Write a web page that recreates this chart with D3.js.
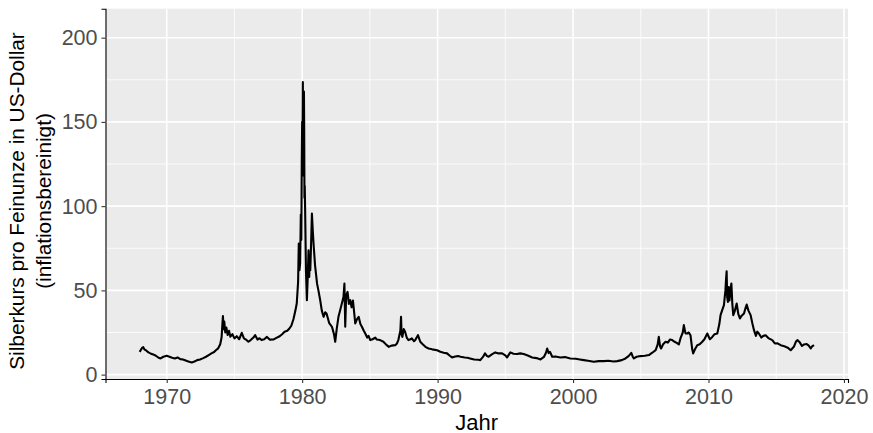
<!DOCTYPE html>
<html>
<head>
<meta charset="utf-8">
<script src="https://cdn.jsdelivr.net/npm/d3@7"></script>
<style>
  html, body { margin: 0; padding: 0; background: #ffffff; }
  svg { display: block; }
  text { font-family: "Liberation Sans", Arial, Helvetica, sans-serif; }
</style>
</head>
<body>
<svg id="chart" width="873" height="433"></svg>
<script>
// ---- data ----
const years = [
  1968.00,1968.10,1968.20,1968.27,1968.35,1968.50,1968.65,1968.80,1969.00,1969.20,1969.40,1969.55,1969.75,
  1970.00,1970.20,1970.40,1970.60,1970.80,1971.00,1971.20,1971.40,1971.60,1971.85,1972.05,1972.25,1972.46,
  1972.70,1972.90,1973.10,1973.30,1973.50,1973.65,1973.80,1973.95,1974.05,1974.12,1974.15,1974.20,1974.25,
  1974.32,1974.40,1974.50,1974.60,1974.70,1974.85,1975.00,1975.17,1975.35,1975.54,1975.70,1975.85,1976.03,
  1976.20,1976.40,1976.53,1976.70,1976.85,1977.00,1977.20,1977.40,1977.60,1977.90,1978.10,1978.30,1978.50,
  1978.70,1978.90,1979.06,1979.20,1979.36,1979.50,1979.60,1979.70,1979.75,1979.80,1979.85,1979.90,1979.94,
  1979.97,1980.00,1980.02,1980.05,1980.07,1980.09,1980.11,1980.13,1980.15,1980.17,1980.19,1980.22,1980.28,
  1980.35,1980.42,1980.47,1980.52,1980.55,1980.60,1980.66,1980.72,1980.78,1980.84,1980.95,1981.10,1981.20,
  1981.33,1981.45,1981.58,1981.70,1981.80,1982.00,1982.20,1982.35,1982.44,1982.55,1982.68,1982.80,1982.93,
  1983.05,1983.12,1983.18,1983.25,1983.35,1983.45,1983.55,1983.65,1983.75,1983.85,1983.92,1984.05,1984.17,
  1984.30,1984.41,1984.55,1984.66,1984.80,1984.90,1985.03,1985.20,1985.40,1985.50,1985.75,1986.00,1986.20,
  1986.40,1986.60,1986.87,1987.00,1987.10,1987.25,1987.30,1987.34,1987.40,1987.50,1987.60,1987.72,1987.85,
  1988.00,1988.10,1988.25,1988.35,1988.55,1988.72,1988.90,1989.10,1989.33,1989.60,1989.96,1990.20,1990.45,
  1990.70,1990.90,1991.07,1991.30,1991.50,1991.70,1992.00,1992.20,1992.40,1992.70,1993.00,1993.15,1993.35,
  1993.50,1993.65,1993.77,1994.00,1994.26,1994.50,1994.76,1995.00,1995.13,1995.37,1995.60,1995.87,1996.10,
  1996.36,1996.70,1996.98,1997.30,1997.60,1997.85,1998.00,1998.09,1998.20,1998.30,1998.46,1998.70,1999.07,
  1999.40,1999.80,2000.20,2000.50,2000.79,2001.10,2001.53,2001.90,2002.27,2002.60,2003.00,2003.26,2003.60,
  2003.87,2004.10,2004.30,2004.40,2004.49,2004.70,2004.98,2005.30,2005.60,2005.85,2006.10,2006.25,2006.33,
  2006.42,2006.50,2006.65,2006.83,2007.00,2007.15,2007.32,2007.50,2007.65,2007.81,2007.95,2008.10,2008.18,
  2008.30,2008.43,2008.55,2008.67,2008.80,2008.87,2009.00,2009.17,2009.35,2009.54,2009.70,2009.91,2010.10,
  2010.28,2010.45,2010.65,2010.80,2010.89,2011.00,2011.14,2011.25,2011.30,2011.34,2011.38,2011.43,2011.50,
  2011.55,2011.62,2011.69,2011.76,2011.83,2011.95,2012.08,2012.20,2012.32,2012.45,2012.62,2012.75,2012.82,
  2012.95,2013.11,2013.25,2013.36,2013.50,2013.60,2013.72,2013.90,2014.05,2014.22,2014.45,2014.71,2014.90,
  2015.10,2015.33,2015.60,2015.85,2016.07,2016.30,2016.45,2016.56,2016.75,2016.90,2017.05,2017.25,2017.40,
  2017.55,2017.65,2017.79
];
const prices = [
  13.5,14.8,16.0,16.3,15.0,14.2,13.2,12.6,12.0,11.2,10.0,9.6,10.6,
  11.2,10.6,10.0,9.6,10.2,9.2,9.0,8.4,7.8,7.2,7.8,8.6,9.0,
  9.8,10.6,11.6,12.6,13.4,14.6,15.6,18.0,22.0,31.0,34.7,27.0,31.5,
  25.0,28.0,23.5,26.0,22.5,24.0,21.5,22.8,21.0,24.8,21.5,20.8,19.5,
  20.5,22.0,23.4,20.8,21.6,20.5,21.0,22.4,20.8,20.9,21.8,22.6,23.8,
  25.4,26.0,27.4,29.0,33.0,38.0,42.2,55.0,77.8,62.0,66.0,95.0,80.0,
  125.0,150.0,118.0,173.7,132.0,166.0,120.0,168.0,145.0,105.0,112.0,97.6,62.0,
  44.2,60.0,73.8,58.0,66.0,62.0,78.0,95.6,86.0,77.8,65.0,54.0,50.0,
  44.2,38.0,34.3,37.0,36.3,30.5,28.4,24.0,19.5,27.0,34.3,38.0,42.2,
  46.0,54.0,28.4,47.0,49.1,42.0,44.2,40.0,44.0,36.0,30.4,33.0,34.3,
  30.0,28.4,26.0,24.4,22.0,23.0,20.5,21.0,22.0,20.9,20.5,19.5,17.8,
  16.5,17.2,17.5,18.5,20.5,26.0,34.3,24.0,22.4,27.0,25.4,22.0,20.5,
  21.0,21.5,19.8,20.5,23.4,19.5,18.0,16.5,15.5,15.0,14.5,13.6,13.0,
  12.6,11.2,10.2,10.8,11.0,10.6,10.2,10.0,9.6,9.0,8.8,8.6,10.5,
  12.6,11.0,10.6,12.0,13.2,12.6,12.6,11.4,10.2,13.2,12.4,12.2,12.6,
  12.2,11.2,10.2,9.8,9.0,10.5,13.0,15.5,12.8,13.5,10.6,10.8,10.2,
  10.4,9.6,9.4,9.0,8.6,8.2,7.6,8.0,8.0,8.2,7.8,8.0,8.6,
  9.6,11.0,12.9,10.8,9.6,10.6,11.0,11.2,11.6,13.0,14.5,18.0,22.4,
  17.0,15.5,18.0,19.5,19.0,20.8,20.5,19.5,18.8,17.9,22.0,25.0,29.4,
  24.5,24.4,25.0,23.4,15.0,12.6,15.0,17.5,18.0,19.5,21.0,24.4,21.0,
  22.4,24.0,24.4,30.0,35.3,38.0,41.2,50.0,57.0,61.4,46.0,43.2,52.0,
  44.0,50.0,54.1,42.0,35.3,38.0,42.2,36.0,33.3,35.0,36.3,40.0,41.6,
  38.0,35.3,30.0,26.4,23.0,25.5,24.4,22.0,23.0,23.4,21.5,20.5,18.5,
  18.6,17.5,16.8,16.0,14.5,16.5,19.5,20.5,19.0,17.0,17.9,18.2,17.2,
  15.5,16.8,17.5
];
const xTicks = [1970, 1980, 1990, 2000, 2010, 2020];
const xMinor = [1965, 1975, 1985, 1995, 2005, 2015];
const yTicks = [0, 50, 100, 150, 200];
const yMinor = [25, 75, 125, 175];
const xTitle = "Jahr";
const yTitleLines = ["Silberkurs pro Feinunze in US-Dollar", "(inflationsbereinigt)"];

// ---- layout ----
const W = 873, H = 433;
const margin = { left: 105.5, right: 25, top: 8.7, bottom: 54 };
const pw = W - margin.left - margin.right;
const ph = H - margin.top - margin.bottom;

const svg = d3.select("#chart");
svg.append("rect").attr("width", W).attr("height", H).attr("fill", "#ffffff");

const g = svg.append("g").attr("transform", `translate(${margin.left},${margin.top})`);

const x = d3.scaleLinear().domain([1965.48, 2020.3]).range([0, pw]);
const y = d3.scaleLinear().domain([-2.6, 217.2]).range([ph, 0]);

// panel
g.append("rect").attr("width", pw).attr("height", ph).attr("fill", "#EBEBEB");

// minor grid
g.selectAll(".xminor").data(xMinor.filter(d => x(d) >= 0 && x(d) <= pw)).join("line")
  .attr("x1", d => x(d)).attr("x2", d => x(d)).attr("y1", 0).attr("y2", ph)
  .attr("stroke", "#ffffff").attr("stroke-width", 0.8);
g.selectAll(".yminor").data(yMinor).join("line")
  .attr("x1", 0).attr("x2", pw).attr("y1", d => y(d)).attr("y2", d => y(d))
  .attr("stroke", "#ffffff").attr("stroke-width", 0.8);
// major grid
g.selectAll(".xmajor").data(xTicks).join("line")
  .attr("x1", d => x(d)).attr("x2", d => x(d)).attr("y1", 0).attr("y2", ph)
  .attr("stroke", "#ffffff").attr("stroke-width", 1.6);
g.selectAll(".ymajor").data(yTicks).join("line")
  .attr("x1", 0).attr("x2", pw).attr("y1", d => y(d)).attr("y2", d => y(d))
  .attr("stroke", "#ffffff").attr("stroke-width", 1.6);

// line
const data = years.map((yr, i) => ({ yr, v: prices[i] }));
const line = d3.line().x(d => x(d.yr)).y(d => y(d.v));
g.append("path").datum(data).attr("d", line)
  .attr("fill", "none").attr("stroke", "#000000")
  .attr("stroke-width", 2.1).attr("stroke-linejoin", "round");

// axes
const xAxis = g.append("g").attr("transform", `translate(0,${ph})`)
  .call(d3.axisBottom(x).tickValues(xTicks).tickFormat(d3.format("d")).tickSizeOuter(0).tickSize(4).tickPadding(6));
const yAxis = g.append("g")
  .call(d3.axisLeft(y).tickValues(yTicks).tickFormat(d3.format("d")).tickSizeOuter(0).tickSize(4).tickPadding(4));

[xAxis, yAxis].forEach(a => {
  a.select(".domain").attr("stroke", "#000000").attr("stroke-width", 1.1);
  a.selectAll(".tick line").attr("stroke", "#333333").attr("stroke-width", 1.1);
  a.selectAll(".tick text").attr("fill", "#4D4D4D").attr("font-size", 21.5)
    .attr("font-family", "'Liberation Sans', Arial, Helvetica, sans-serif");
});

// titles
svg.append("text").attr("x", margin.left + pw / 2).attr("y", 429.5)
  .attr("text-anchor", "middle").attr("font-size", 22).attr("fill", "#000000")
  .text(xTitle);

const yt = svg.append("text").attr("transform", `translate(0,201) rotate(-90)`)
  .attr("text-anchor", "middle").attr("font-size", 20.8).attr("fill", "#000000");
yTitleLines.forEach((t, i) => {
  yt.append("tspan").attr("x", 0).attr("y", 24 + i * 27).text(t);
});
</script>
</body>
</html>
